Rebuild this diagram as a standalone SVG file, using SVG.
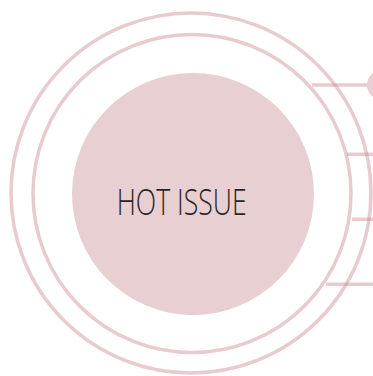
<svg xmlns="http://www.w3.org/2000/svg" width="373" height="376" viewBox="0 0 373 376">
<style>
.ring{fill:none;stroke:#c98b93;stroke-opacity:0.45;stroke-width:3.5}
.conn{stroke:#c98b93;stroke-opacity:0.45;stroke-width:3.5;fill:none}
.lbl{font-family:"Open Sans","Liberation Sans",sans-serif;font-weight:300;font-size:37px;fill:#2a2426}
</style>
<rect width="373" height="376" fill="#ffffff"/>
<g id="outer-ring"><circle class="ring" cx="191" cy="193" r="180"/></g>
<g id="inner-ring"><circle class="ring" cx="192" cy="193.5" r="159"/></g>
<g id="hot-issue">
<circle cx="193" cy="194" r="121" fill="#e8cfd1"/>
<text class="lbl" x="181.7" y="215" text-anchor="middle" textLength="130" lengthAdjust="spacingAndGlyphs">HOT ISSUE</text>
</g>
<g id="connectors">
<line class="conn" x1="312" y1="85" x2="373" y2="85"/>
<line class="conn" x1="347" y1="154.3" x2="373" y2="154.3"/>
<line class="conn" x1="352" y1="219.3" x2="373" y2="219.3"/>
<line class="conn" x1="326" y1="284.3" x2="373" y2="284.3"/>
</g>
<g id="small-node"><circle cx="382" cy="85" r="15" fill="#e8cfd1"/></g>
</svg>
